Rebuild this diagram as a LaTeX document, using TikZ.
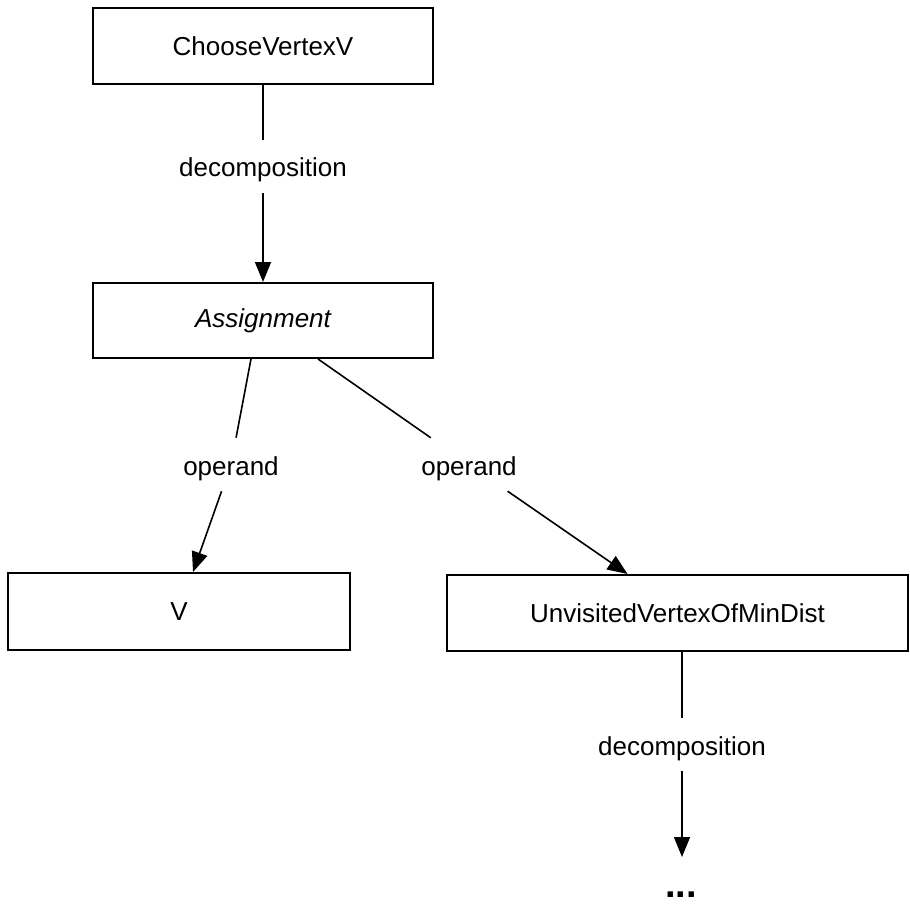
\documentclass[tikz,border=0pt]{standalone}
\usepackage{fontspec}
\setmainfont{Liberation Sans}
\usetikzlibrary{arrows.meta}
\begin{document}
\begin{tikzpicture}[x=1pt,y=-1pt,
  box/.style={draw=black, line width=2pt, rectangle, minimum height=76pt, inner sep=0pt,
    font=\fontsize{26}{31}\selectfont},
  lab/.style={anchor=base, inner xsep=6pt, inner ysep=10pt, text height=27pt, text depth=6pt,
    font=\fontsize{26}{31}\selectfont},
  conn/.style={line width=1.6pt, draw=black},
  arr/.style={conn, -{Triangle[length=20pt,width=16pt]}}
]
\useasboundingbox (0,0) rectangle (910,904);
\node[box, minimum width=340pt] (cv) at (263,46) {ChooseVertexV};
\node[box, minimum width=340pt, minimum height=75pt] (asg) at (263,320.5) {\itshape Assignment};
\node[box, minimum width=342pt, minimum height=77pt] (v) at (179,611.5) {V};
\node[box, minimum width=461pt] (uv) at (677.5,613) {UnvisitedVertexOfMinDist};
\node[lab] (dec1) at (263,177) {decomposition};
\node[lab] (op1) at (231,475) {operand};
\node[lab] (op2) at (469,475) {operand};
\node[lab] (dec2) at (682,755) {decomposition};
\node[anchor=base, inner sep=0pt, font=\fontsize{38}{44}\selectfont\bfseries] (dots) at (681,897) {...};
\coordinate (tipend) at (682,857);
\draw[conn] (cv.south) -- (dec1);
\draw[arr] (dec1) -- (asg.north);
\draw[conn] ([xshift=-12pt]asg.south) -- (op1);
\draw[arr] (op1) -- ([xshift=14pt]v.north);
\draw[conn] ([xshift=55pt]asg.south) -- (op2);
\draw[arr] (op2) -- ([xshift=-50pt]uv.north);
\draw[conn] ([xshift=4.5pt]uv.south) -- (dec2);
\draw[arr] (dec2) -- (tipend);
\end{tikzpicture}
\end{document}
